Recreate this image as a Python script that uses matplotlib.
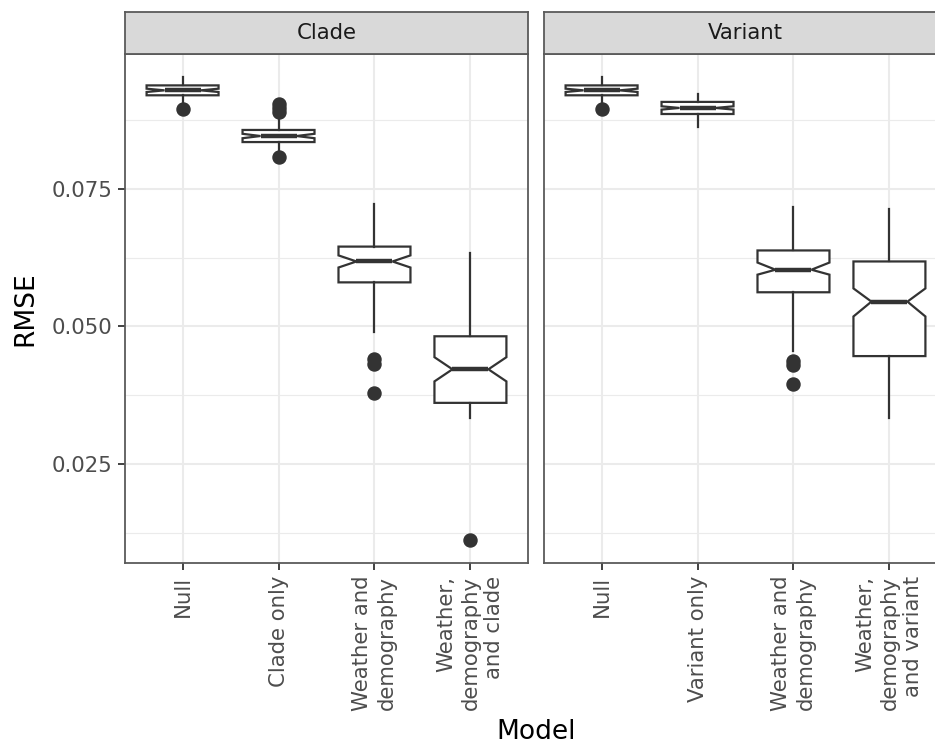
import matplotlib
matplotlib.use("Agg")
import matplotlib.pyplot as plt

plt.rcParams["font.family"] = ["DejaVu Sans"]

# Facets and model labels
facets = ["Clade", "Variant"]
clade_models = ["Null", "Clade only", "Weather and\ndemography",
                "Weather,\ndemography\nand clade"]
variant_models = ["Null", "Variant only", "Weather and\ndemography",
                  "Weather,\ndemography\nand variant"]

# RMSE box summaries per model (Clade facet)
clade_q1 = [0.0920, 0.0835, 0.0580, 0.0361]
clade_med = [0.0929, 0.0846, 0.0618, 0.0422]
clade_q3 = [0.0938, 0.0857, 0.0645, 0.0482]
clade_whislo = [0.0906, 0.0821, 0.0489, 0.0333]
clade_whishi = [0.0953, 0.0875, 0.0723, 0.0634]
clade_notch_lo = [0.0926, 0.0842, 0.0607, 0.0400]
clade_notch_hi = [0.0932, 0.0850, 0.0629, 0.0444]
clade_outliers = [[0.0895], [0.0904, 0.0897, 0.0889, 0.0808],
                  [0.0440, 0.0432, 0.0379], [0.0112]]

# RMSE box summaries per model (Variant facet)
variant_q1 = [0.0920, 0.0886, 0.0562, 0.0446]
variant_med = [0.0929, 0.0897, 0.0603, 0.0545]
variant_q3 = [0.0938, 0.0908, 0.0638, 0.0618]
variant_whislo = [0.0906, 0.0862, 0.0455, 0.0333]
variant_whishi = [0.0953, 0.0922, 0.0717, 0.0714]
variant_notch_lo = [0.0926, 0.0894, 0.0594, 0.0518]
variant_notch_hi = [0.0932, 0.0900, 0.0616, 0.0569]
variant_outliers = [[0.0895], [], [0.0437, 0.0430, 0.0395], []]

y_major = [0.025, 0.050, 0.075]
y_major_labels = ["0.025", "0.050", "0.075"]
y_minor = [0.0125, 0.0375, 0.0625, 0.0875]

DARK = "#333333"
GRID = "#EBEBEB"
TICK_TXT = "#4D4D4D"


def make_stats(q1, med, q3, lo, hi, nlo, nhi, fl):
    out = []
    for i in range(len(q1)):
        out.append(dict(q1=q1[i], med=med[i], q3=q3[i], whislo=lo[i],
                        whishi=hi[i], cilo=nlo[i], cihi=nhi[i],
                        fliers=fl[i], mean=med[i]))
    return out


panels = [
    (clade_models, make_stats(clade_q1, clade_med, clade_q3, clade_whislo,
                              clade_whishi, clade_notch_lo, clade_notch_hi,
                              clade_outliers)),
    (variant_models, make_stats(variant_q1, variant_med, variant_q3,
                                variant_whislo, variant_whishi,
                                variant_notch_lo, variant_notch_hi,
                                variant_outliers)),
]

# y range with 5% padding around the data extent
all_vals = (clade_whislo + clade_whishi + variant_whislo + variant_whishi
            + [v for g in clade_outliers + variant_outliers for v in g])
ymin, ymax = min(all_vals), max(all_vals)
pad = 0.05 * (ymax - ymin)

W, H = 935, 748
fig = plt.figure(figsize=(W / 100, H / 100), dpi=100)
fig.patch.set_facecolor("white")

panel_left = [125, 544]
panel_w = 403
panel_top, panel_bot = 54, 563
strip_top = 12

tick_fs = 15.3
title_fs = 19

for k, (labels, stats) in enumerate(panels):
    x0 = panel_left[k]
    ax = fig.add_axes([x0 / W, (H - panel_bot) / H, panel_w / W,
                       (panel_bot - panel_top) / H])
    ax.set_axisbelow(True)
    ax.bxp(stats, positions=[1, 2, 3, 4], widths=0.75, shownotches=True,
           showcaps=False, patch_artist=True,
           boxprops=dict(facecolor="white", edgecolor=DARK, linewidth=1.6),
           whiskerprops=dict(color=DARK, linewidth=1.6),
           medianprops=dict(color=DARK, linewidth=3.2, solid_capstyle="butt"),
           flierprops=dict(marker="o", markersize=9.4, markerfacecolor=DARK,
                           markeredgecolor=DARK, linestyle="none"),
           zorder=3)
    ax.set_xlim(0.4, 4.6)
    ax.set_ylim(ymin - pad, ymax + pad)
    ax.set_xticks([1, 2, 3, 4])
    ax.set_xticklabels(labels, rotation=90, ha="center", va="top",
                       multialignment="right", linespacing=1.25,
                       fontsize=tick_fs, color=TICK_TXT)
    ax.set_yticks(y_major)
    ax.set_yticks(y_minor, minor=True)
    if k == 0:
        ax.set_yticklabels(y_major_labels, fontsize=tick_fs, color=TICK_TXT)
    else:
        ax.set_yticklabels([])
    ax.tick_params(axis="both", which="major", length=5, width=1.3,
                   color=DARK, pad=4)
    if k == 1:
        ax.tick_params(axis="y", which="major", length=0)
    ax.tick_params(axis="y", which="minor", length=0)
    ax.grid(True, which="major", color=GRID, linewidth=1.5)
    ax.grid(True, which="minor", axis="y", color=GRID, linewidth=0.8)
    for sp in ax.spines.values():
        sp.set_color("#5a5a5a")
        sp.set_linewidth(1.3)

    # facet strip
    sx = fig.add_axes([x0 / W, (H - panel_top) / H, panel_w / W,
                       (panel_top - strip_top) / H])
    sx.set_facecolor("#D9D9D9")
    sx.set_xticks([])
    sx.set_yticks([])
    for sp in sx.spines.values():
        sp.set_color("#5a5a5a")
        sp.set_linewidth(1.3)
    sx.text(0.5, 0.5, facets[k], ha="center", va="center",
            fontsize=tick_fs, color="#1A1A1A", transform=sx.transAxes)

fig.text(25 / W, 1 - ((panel_top + panel_bot) / 2) / H, "RMSE",
         rotation=90, ha="center", va="center", fontsize=title_fs,
         color="black")
fig.text(536 / W, 1 - 732 / H, "Model", ha="center", va="center",
         fontsize=title_fs, color="black")

fig.savefig("out.png", dpi=100, facecolor="white")
